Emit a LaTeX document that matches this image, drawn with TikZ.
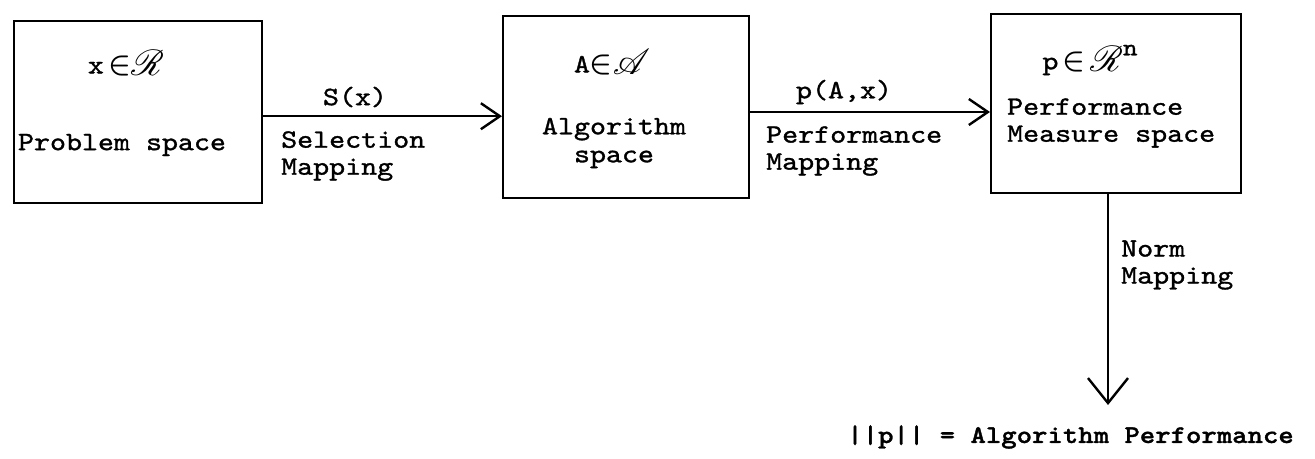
\documentclass[tikz,border=0pt]{standalone}
\usepackage{fontspec}
\usepackage{mathrsfs}
\newfontfamily\tw{lmmono10-regular.otf}[FakeStretch=1.15,FakeBold=1.2]
\newfontfamily\twb{lmmonolt10-bold.otf}[FakeStretch=1.15,FakeBold=1.2]
\newcommand{\bigscr}[1]{\raisebox{-2pt}{\scalebox{1.45}{$\mathscr{#1}$}}}
\newcommand{\elem}{\scalebox{1.2}{$\in$}}
\usetikzlibrary{arrows.meta}
\begin{document}
\begin{tikzpicture}[x=1pt,y=-1pt,
  box/.style={draw,line width=2.4pt,minimum width=#1,inner sep=0pt,anchor=north west},
  txt/.style={font=\tw\fontsize{26.5}{30}\selectfont\boldmath,inner sep=0pt},
  arr/.style={line width=2.4pt,-{Straight Barb[length=19pt,width=26pt,line width=2.4pt]}},
  varr/.style={line width=2.4pt,-{Straight Barb[length=25pt,width=40pt,line width=2.4pt]}}]
\useasboundingbox (0,0) rectangle (1315,458);
% boxes
\node[box=248pt,minimum height=182pt] (b1) at (13,20) {};
\node[box=246pt,minimum height=182pt] (b2) at (502,15) {};
\node[box=250pt,minimum height=179pt] (b3) at (990,13) {};
% box texts
\node[txt] (t1a) at (126,63) {x\,\elem\bigscr{R}};
\node[txt] (t1b) at (122,145) {Problem space};
\node[txt] (t2a) at (612,62) {A\elem\bigscr{A}};
\node[txt,align=center] (t2b) at (614,143) {Algorithm\\[-2pt]space};
\node[txt] (t3a) at (1090,60) {p\,\elem\,\bigscr{R}\raisebox{14pt}{\fontsize{24}{26}\selectfont n}};
\node[txt,align=left,anchor=west] (t3b) at (1007,123) {Performance\\[-3pt]Measure space};
% arrows
\path ([yshift=-4pt]b1.east) coordinate (s1);
\draw[arr] (s1) -- (s1 -| b2.west);
\path (b2.east |- 0,112) coordinate (s2);
\draw[arr] (s2) -- (s2 -| b3.west);
\path (1108,192) coordinate (s3);
\coordinate (e3) at (1108,405);
\draw[varr] (s3 |- b3.south) -- (e3);
% arrow labels
\node[txt] (l1) at (355,97) {S(x)};
\node[txt,align=left,anchor=west] (l2) at (281,156) {Selection\\[-3pt]Mapping};
\node[txt] (l3) at (844,92) {p(A,x)};
\node[txt,align=left,anchor=west] (l4) at (766,151) {Performance\\[-3pt]Mapping};
\node[txt,align=left,anchor=west] (l5) at (1121,265) {Norm\\[-3pt]Mapping};
\node[font=\twb\fontsize{25.5}{28}\selectfont,inner sep=0pt,anchor=east] (res) at (1294,437) {||p|| = Algorithm Performance};
\end{tikzpicture}
\end{document}
